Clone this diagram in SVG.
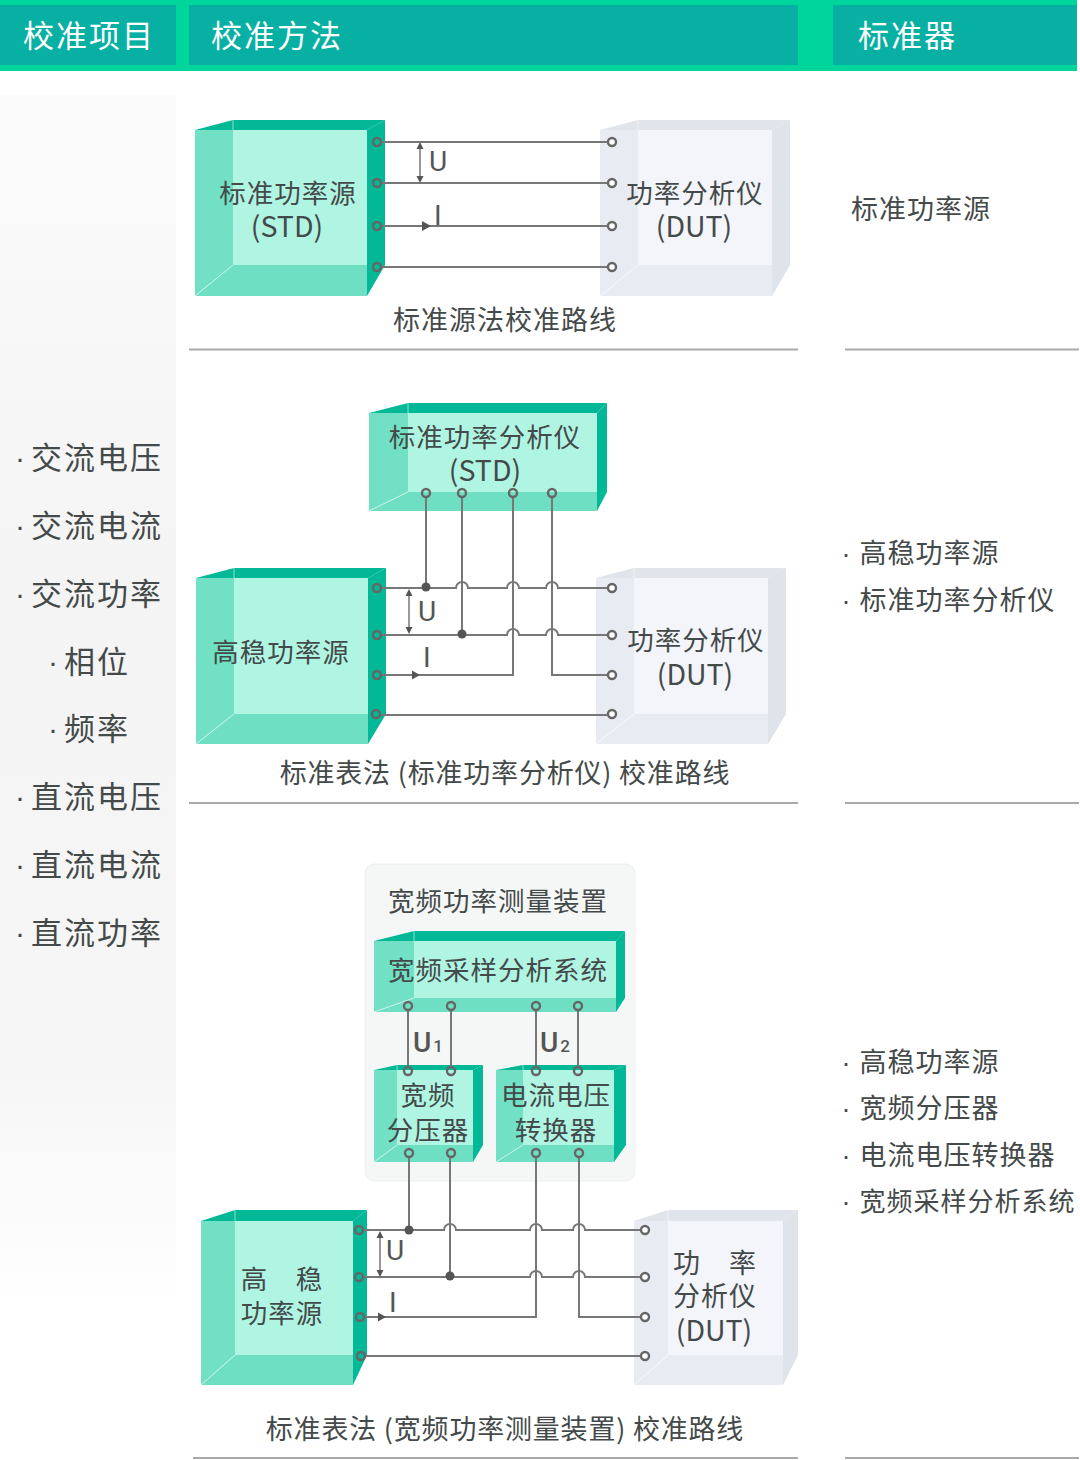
<svg xmlns="http://www.w3.org/2000/svg" width="1080" height="1460" viewBox="0 0 1080 1460">
<style>
text{font-family:"Noto Sans CJK SC","Noto Sans",sans-serif;fill:#444a4a}
.h{font-size:31px;letter-spacing:2px;fill:#fff}
.l{font-size:31px;letter-spacing:2px}
.r{font-size:27px;letter-spacing:1px}
.c{font-size:26.500px;letter-spacing:1px;text-anchor:middle}
.k{font-size:27px;letter-spacing:1px;text-anchor:middle}
.k2{font-size:27px;letter-spacing:.8px;text-anchor:middle}
.n{font-size:28.500px;letter-spacing:0;text-anchor:middle}
.v{font-family:Roboto,"Noto Sans",sans-serif;font-size:28px;fill:#555}
.bl{font-family:"Liberation Sans",sans-serif;font-size:30px}
.br{font-family:"Liberation Sans",sans-serif;font-size:27px}
.w{fill:none;stroke:#777;stroke-width:2}
.p{fill:none;stroke:#666;stroke-width:2.400}
.q{fill:#fff;stroke:#666;stroke-width:2.400}
.d,.a{fill:#555}
.e{stroke:#fff;stroke-opacity:.55;stroke-width:1;fill:none}
.t1{fill:#02b897}.t2{fill:#71e0c4}.t3{fill:#b0f5e2}.t4{fill:#6fdfc3}.t5{fill:#02b897}
.g1{fill:#e1e4eb}.g2{fill:#e8ebf1}.g3{fill:#f3f5fa}.g4{fill:#e8ebf1}.g5{fill:#dfe3ea}
.div{stroke:#a9a9a9;stroke-width:2}
</style>
<defs>
<linearGradient id="lf" x1="0" y1="0" x2="0" y2="1"><stop offset="0" stop-color="#fbfbfb"/><stop offset=".4" stop-color="#f4f4f4"/><stop offset=".8" stop-color="#f6f6f6"/><stop offset="1" stop-color="#ffffff"/></linearGradient>
</defs>
<rect width="1080" height="1460" fill="#fff"/>
<g id="header">
<rect x="0" y="0" width="1077" height="71" fill="#00d59b"/>
<rect x="0" y="5" width="176" height="60" fill="#07b0a2"/>
<rect x="189" y="5" width="609" height="60" fill="#07b0a2"/>
<rect x="833" y="5" width="244" height="60" fill="#07b0a2"/>
<text class="h" x="23" y="47">校准项目</text>
<text class="h" x="211" y="47">校准方法</text>
<text class="h" x="858" y="47">标准器</text>
</g>
<g id="items">
<rect x="0" y="95" width="176" height="1215" fill="url(#lf)"/>
<text class="bl" x="15" y="468">·</text><text class="l" x="31" y="469">交流电压</text>
<text class="bl" x="15" y="536">·</text><text class="l" x="31" y="537">交流电流</text>
<text class="bl" x="15" y="604">·</text><text class="l" x="31" y="605">交流功率</text>
<text class="bl" x="48" y="672">·</text><text class="l" x="64" y="673">相位</text>
<text class="bl" x="48" y="739">·</text><text class="l" x="64" y="740">频率</text>
<text class="bl" x="15" y="807">·</text><text class="l" x="31" y="808">直流电压</text>
<text class="bl" x="15" y="875">·</text><text class="l" x="31" y="876">直流电流</text>
<text class="bl" x="15" y="943">·</text><text class="l" x="31" y="944">直流功率</text>
</g>
<g id="dividers">
<line class="div" x1="189" y1="349.500" x2="798" y2="349.500"/><line class="div" x1="845" y1="349.500" x2="1079" y2="349.500"/>
<line class="div" x1="189" y1="803" x2="798" y2="803"/><line class="div" x1="845" y1="803" x2="1079" y2="803"/>
<line class="div" x1="193" y1="1458" x2="798" y2="1458"/><line class="div" x1="845" y1="1458" x2="1079" y2="1458"/>
</g>
<g id="panel"><rect x="365" y="864" width="270" height="317" rx="9" fill="#f5f7f7" stroke="#eef0f0"/></g>

<g id="n-std-source">
<polygon class="t1" points="195,130 233,120 385,120 367,130"/>
<polygon class="t2" points="195,130 233,130 233,265 195,296"/>
<polygon class="t3" points="233,130 367,130 367,265 233,265"/>
<polygon class="t4" points="233,265 367,265 367,296 195,296"/>
<polygon class="t5" points="367,130 385,120 385,265 367,296"/>
<path class="e" d="M195 296L233 265M233 120V130"/>
<text class="c" x="288" y="203">标准功率源</text>
<text class="n" x="287" y="237">(STD)</text>
</g>
<g id="n-dut-1">
<polygon class="g1" points="600,130 638,120 790,120 772,130"/>
<polygon class="g2" points="600,130 638,130 638,265 600,296"/>
<polygon class="g3" points="638,130 772,130 772,265 638,265"/>
<polygon class="g4" points="638,265 772,265 772,296 600,296"/>
<polygon class="g5" points="772,130 790,120 790,265 772,296"/>
<path class="e" d="M600 296L638 265M638 120V130"/>
<text class="c" x="695" y="203">功率分析仪</text>
<text class="n" x="694" y="237">(DUT)</text>
</g>
<g id="n-std-analyzer">
<polygon class="t1" points="369,413 408,403 607,403 597,413"/>
<polygon class="t2" points="369,413 408,413 408,492 369,511"/>
<polygon class="t3" points="408,413 597,413 597,492 408,492"/>
<polygon class="t4" points="408,492 597,492 597,511 369,511"/>
<polygon class="t5" points="597,413 607,403 607,492 597,511"/>
<path class="e" d="M369 511L408 492M408 403V413"/>
<text class="c" x="485" y="447">标准功率分析仪</text>
<text class="n" x="485" y="481">(STD)</text>
</g>
<g id="n-source-2">
<polygon class="t1" points="196,578 234,568 386,568 368,578"/>
<polygon class="t2" points="196,578 234,578 234,714 196,744"/>
<polygon class="t3" points="234,578 368,578 368,714 234,714"/>
<polygon class="t4" points="234,714 368,714 368,744 196,744"/>
<polygon class="t5" points="368,578 386,568 386,714 368,744"/>
<path class="e" d="M196 744L234 714M234 568V578"/>
<text class="c" x="281" y="662">高稳功率源</text>
</g>
<g id="n-dut-2">
<polygon class="g1" points="596,578 634,568 786,568 768,578"/>
<polygon class="g2" points="596,578 634,578 634,714 596,744"/>
<polygon class="g3" points="634,578 768,578 768,714 634,714"/>
<polygon class="g4" points="634,714 768,714 768,744 596,744"/>
<polygon class="g5" points="768,578 786,568 786,714 768,744"/>
<path class="e" d="M596 744L634 714M634 568V578"/>
<text class="c" x="696" y="650">功率分析仪</text>
<text class="n" x="695" y="685">(DUT)</text>
</g>
<g id="n-sampling">
<text class="c" x="498" y="911">宽频功率测量装置</text>
<polygon class="t1" points="374,941 414,931 625,931 616,941"/>
<polygon class="t2" points="374,941 414,941 414,998 374,1012"/>
<polygon class="t3" points="414,941 616,941 616,998 414,998"/>
<polygon class="t4" points="414,998 616,998 616,1012 374,1012"/>
<polygon class="t5" points="616,941 625,931 625,998 616,1012"/>
<path class="e" d="M374 1012L414 998M414 931V941"/>
<text class="c" x="498" y="980">宽频采样分析系统</text>
</g>
<g id="n-divider">
<polygon class="t1" points="374,1070 397,1065 483,1065 473,1070"/>
<polygon class="t2" points="374,1070 397,1070 397,1145 374,1162"/>
<polygon class="t3" points="397,1070 473,1070 473,1145 397,1145"/>
<polygon class="t4" points="397,1145 473,1145 473,1162 374,1162"/>
<polygon class="t5" points="473,1070 483,1065 483,1145 473,1162"/>
<path class="e" d="M374 1162L397 1145M397 1065V1070"/>
<text class="c" x="428" y="1105">宽频</text>
<text class="c" x="428" y="1140">分压器</text>
</g>
<g id="n-converter">
<polygon class="t1" points="496,1070 523,1065 626,1065 614,1070"/>
<polygon class="t2" points="496,1070 523,1070 523,1145 496,1162"/>
<polygon class="t3" points="523,1070 614,1070 614,1145 523,1145"/>
<polygon class="t4" points="523,1145 614,1145 614,1162 496,1162"/>
<polygon class="t5" points="614,1070 626,1065 626,1145 614,1162"/>
<path class="e" d="M496 1162L523 1145M523 1065V1070"/>
<text class="c" x="556" y="1105">电流电压</text>
<text class="c" x="556" y="1140">转换器</text>
</g>
<g id="n-source-3">
<polygon class="t1" points="201,1221 235,1210 367,1210 353,1221"/>
<polygon class="t2" points="201,1221 235,1221 235,1355 201,1385"/>
<polygon class="t3" points="235,1221 353,1221 353,1355 235,1355"/>
<polygon class="t4" points="235,1355 353,1355 353,1385 201,1385"/>
<polygon class="t5" points="353,1221 367,1210 367,1355 353,1385"/>
<path class="e" d="M201 1385L235 1355M235 1210V1221"/>
<text class="c" x="282" y="1289">高　稳</text>
<text class="c" x="282" y="1323">功率源</text>
</g>
<g id="n-dut-3">
<polygon class="g1" points="634,1221 668,1210 798,1210 783,1221"/>
<polygon class="g2" points="634,1221 668,1221 668,1355 634,1385"/>
<polygon class="g3" points="668,1221 783,1221 783,1355 668,1355"/>
<polygon class="g4" points="668,1355 783,1355 783,1385 634,1385"/>
<polygon class="g5" points="783,1221 798,1210 798,1355 783,1385"/>
<path class="e" d="M634 1385L668 1355M668 1210V1221"/>
<text class="k" x="715" y="1273">功　率</text>
<text class="k" x="715" y="1306">分析仪</text>
<text class="n" x="714" y="1341">(DUT)</text>
</g>

<g id="connectors">
<path class="w" d="M381 142H612M381 183H612M381 226H612M381 267H612"/>
<path class="w" d="M420 146V179" style="stroke-width:1.500"/>
<polygon class="a" points="420,142 416.500,149 423.500,149"/><polygon class="a" points="420,183 416.500,176 423.500,176"/>
<polygon class="a" points="431,226 422,221 422,231"/>
<circle class="p" cx="377" cy="142" r="4"/><circle class="p" cx="377" cy="183" r="4"/><circle class="p" cx="377" cy="226" r="4"/><circle class="p" cx="377" cy="267" r="4"/>
<circle class="q" cx="612" cy="142" r="4"/><circle class="q" cx="612" cy="183" r="4"/><circle class="q" cx="612" cy="226" r="4"/><circle class="q" cx="612" cy="267" r="4"/>

<path class="w" d="M381 588H456a6 6 0 0 1 12 0H507a6 6 0 0 1 12 0H546a6 6 0 0 1 12 0H612"/>
<path class="w" d="M381 635H507a6 6 0 0 1 12 0H546a6 6 0 0 1 12 0H612"/>
<path class="w" d="M381 675H513V497M612 675H552V497M426 497V588M462 497V635M380 715H612"/>
<path class="w" d="M409 593V630" style="stroke-width:1.500"/>
<polygon class="a" points="409,589 405.500,596 412.500,596"/><polygon class="a" points="409,634 405.500,627 412.500,627"/>
<polygon class="a" points="420,675 412,670.500 412,679.500"/>
<circle class="d" cx="426" cy="587" r="4.500"/><circle class="d" cx="462" cy="634" r="4.500"/>
<circle class="p" cx="377" cy="588" r="4"/><circle class="p" cx="377" cy="635" r="4"/><circle class="p" cx="377" cy="675" r="4"/><circle class="p" cx="376" cy="714" r="4"/>
<circle class="q" cx="612" cy="588" r="4"/><circle class="q" cx="612" cy="635" r="4"/><circle class="q" cx="612" cy="675" r="4"/><circle class="q" cx="612" cy="714" r="4"/>
<circle class="p" cx="426" cy="493" r="4"/><circle class="p" cx="462" cy="493" r="4"/><circle class="p" cx="513" cy="493" r="4"/><circle class="p" cx="552" cy="493" r="4"/>

<path class="w" d="M408 1010V1067M451 1010V1067M536 1010V1067M578 1010V1067"/>
<circle class="p" cx="408" cy="1006" r="4"/><circle class="p" cx="451" cy="1006" r="4"/><circle class="p" cx="536" cy="1006" r="4"/><circle class="p" cx="578" cy="1006" r="4"/>
<circle class="p" cx="408" cy="1071" r="4"/><circle class="p" cx="451" cy="1071" r="4"/><circle class="p" cx="536" cy="1071" r="4"/><circle class="p" cx="578" cy="1071" r="4"/>

<path class="w" d="M363 1230H444a6 6 0 0 1 12 0H530a6 6 0 0 1 12 0H573a6 6 0 0 1 12 0H645"/>
<path class="w" d="M363 1277H530a6 6 0 0 1 12 0H573a6 6 0 0 1 12 0H645"/>
<path class="w" d="M364 1317H536V1157M645 1317H579V1157M409 1157V1230M450 1157V1277M365 1356H645"/>
<path class="w" d="M380 1235V1273" style="stroke-width:1.500"/>
<polygon class="a" points="380,1231 376.500,1238 383.500,1238"/><polygon class="a" points="380,1277 376.500,1270 383.500,1270"/>
<polygon class="a" points="386,1317 378,1312.500 378,1321.500"/>
<circle class="d" cx="409" cy="1230" r="4.500"/><circle class="d" cx="450" cy="1276" r="4.500"/>
<circle class="p" cx="409" cy="1153" r="4"/><circle class="p" cx="451" cy="1153" r="4"/><circle class="p" cx="536" cy="1153" r="4"/><circle class="p" cx="579" cy="1153" r="4"/>
<circle class="p" cx="359" cy="1230" r="4"/><circle class="p" cx="359" cy="1277" r="4"/><circle class="p" cx="360" cy="1317" r="4"/><circle class="p" cx="361" cy="1356" r="4"/>
<circle class="q" cx="645" cy="1230" r="4"/><circle class="q" cx="645" cy="1277" r="4"/><circle class="q" cx="645" cy="1317" r="4"/><circle class="q" cx="645" cy="1356" r="4"/>
</g>

<g id="labels">
<text class="v" x="429" y="171">U</text><text class="v" x="434" y="225">I</text>
<text class="v" x="418" y="621">U</text><text class="v" x="423" y="667">I</text>
<text class="v" x="386" y="1260">U</text><text class="v" x="389" y="1312">I</text>
<text class="v" x="413" y="1052" style="font-weight:500">U<tspan font-size="17" dx="2">1</tspan></text>
<text class="v" x="540" y="1052" style="font-weight:500">U<tspan font-size="17" dx="2">2</tspan></text>
<text class="k" x="505" y="330">标准源法校准路线</text>
<text class="k2" x="505" y="783">标准表法 (标准功率分析仪) 校准路线</text>
<text class="k2" x="505" y="1439">标准表法 (宽频功率测量装置) 校准路线</text>
</g>
<g id="standards">
<text class="r" x="851" y="219">标准功率源</text>
<text class="br" x="841.500" y="563">·</text><text class="r" x="859.500" y="563">高稳功率源</text>
<text class="br" x="841.500" y="610">·</text><text class="r" x="859.500" y="610">标准功率分析仪</text>
<text class="br" x="841.500" y="1072">·</text><text class="r" x="859.500" y="1072">高稳功率源</text>
<text class="br" x="841.500" y="1118">·</text><text class="r" x="859.500" y="1118">宽频分压器</text>
<text class="br" x="841.500" y="1165">·</text><text class="r" x="859.500" y="1165">电流电压转换器</text>
<text class="br" x="841.500" y="1211">·</text><text class="r" x="859.500" y="1211" style="font-size:26px">宽频采样分析系统</text>
</g>
</svg>
